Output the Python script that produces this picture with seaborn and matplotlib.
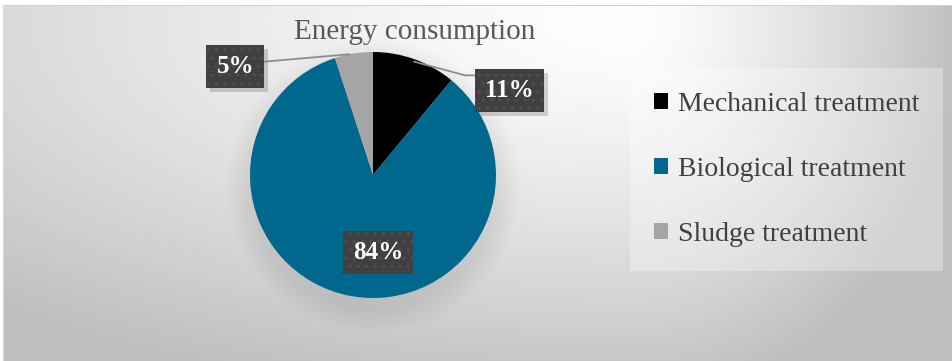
import numpy as np
import matplotlib
matplotlib.use("Agg")
import matplotlib.pyplot as plt
import seaborn as sns
from matplotlib.patches import Patch, Rectangle

categories = ["Mechanical treatment", "Biological treatment", "Sludge treatment"]
values = [11, 84, 5]
pct_labels = ["11%", "84%", "5%"]
colors = ["#000000", "#00688d", "#a5a5a5"]
title = "Energy consumption"

sns.set_style("white")
plt.rcParams['font.family'] = ['Liberation Serif', 'DejaVu Serif']
plt.rcParams['hatch.linewidth'] = 1.2

W, H = 952, 361
fig = plt.figure(figsize=(W / 100, H / 100), dpi=100)

# pie geometry (pixels)
cxp, cyp, r = 373, 175, 123

# background gradient panel
bg = fig.add_axes([0, 0, 1, 1], zorder=0)
bg.set_axis_off()
yy, xx = np.mgrid[0:H, 0:W].astype(float)
cx, cy = 630, 20
ax_scale = np.where(xx > cx, 330.0, 950.0)
d = np.sqrt(((xx - cx) / ax_scale) ** 2 + ((yy - cy) / 380.0) ** 2)
shade = 1.0 - 0.25 * np.clip(d, 0, 1.0) ** 1.3
# soft shadow beneath the pie
dist = np.sqrt((xx - cxp) ** 2 + (yy - (cyp + 10)) ** 2)
shade -= 0.07 * np.clip(1 - (dist - r) / 25.0, 0, 1)
img = np.dstack([shade, shade, shade])
img[:5, :, :] = 1.0
img[:, :3, :] = 1.0
img[5, 3:, :] = 0.82
img[5:, 3, :] = 0.85
bg.imshow(np.clip(img, 0, 1), extent=[0, W, H, 0], aspect='auto', interpolation='bilinear')
bg.set_xlim(0, W)
bg.set_ylim(H, 0)

# pie
ax = fig.add_axes([(cxp - r) / W, (H - cyp - r) / H, 2 * r / W, 2 * r / H], zorder=2)
pal = sns.color_palette(colors)
wedges, _ = ax.pie(values, colors=pal, startangle=90, counterclock=False,
                   radius=1, wedgeprops=dict(linewidth=0))
ax.set_xlim(-1, 1)
ax.set_ylim(-1, 1)
ax.set_aspect('equal')
ax.set_axis_off()

# label positions relative to pie (data units)
label_pos = [(1.11, 0.69), (0.04, -0.63), (-1.12, 0.88)]
label_texts = []
for w, lab, pos in zip(wedges, pct_labels, label_pos):
    t = ax.text(pos[0], pos[1], lab, color='white', fontsize=18, fontweight='bold',
                ha='center', va='center', zorder=5,
                bbox=dict(boxstyle='square,pad=0.4', fc='#404040', ec='#4e4e4e',
                          lw=0, hatch='..'))
    label_texts.append(t)

# leader lines
th1 = np.deg2rad(90 - 360 * values[0] / 2 / 100)
p1 = (np.cos(th1) * 0.98, np.sin(th1) * 0.98)
ax.plot([p1[0], 0.75, 0.86], [p1[1], 0.81, 0.81], color='#8c8c8c', lw=1.3,
        clip_on=False, zorder=3)
th3 = np.deg2rad(90 + 360 * values[2] / 2 / 100 + 2)
p3 = (np.cos(th3) * 1.0, np.sin(th3) * 1.0)
ax.plot([-0.9, p3[0]], [0.92, p3[1]], color='#8c8c8c', lw=1.3, clip_on=False, zorder=3)

fig.text(415 / W, 1 - 32 / H, title, ha='center', va='center', fontsize=21,
         color='#595959')

# legend
handles = [Patch(facecolor=c, edgecolor='none') for c in colors]
leg = fig.legend(handles, categories, loc='upper left',
                 bbox_to_anchor=(630 / W, 1 - 68 / H), frameon=True,
                 fontsize=20, labelcolor='#404040', handlelength=0.5,
                 handleheight=0.5, handletextpad=0.38, labelspacing=1.45,
                 borderpad=0.85, borderaxespad=0, fancybox=False,
                 framealpha=0.3, facecolor='white', edgecolor='none')

# drop shadows for the label boxes
fig.canvas.draw()
renderer = fig.canvas.get_renderer()
for t in label_texts:
    bb = t.get_bbox_patch().get_window_extent(renderer)
    fig.patches.append(Rectangle((bb.x0 + 4, bb.y0 - 4), bb.width, bb.height,
                                 transform=None, facecolor=(0, 0, 0, 0.16),
                                 edgecolor='none', zorder=1.5, figure=fig))

fig.savefig("out.png", dpi=100)
